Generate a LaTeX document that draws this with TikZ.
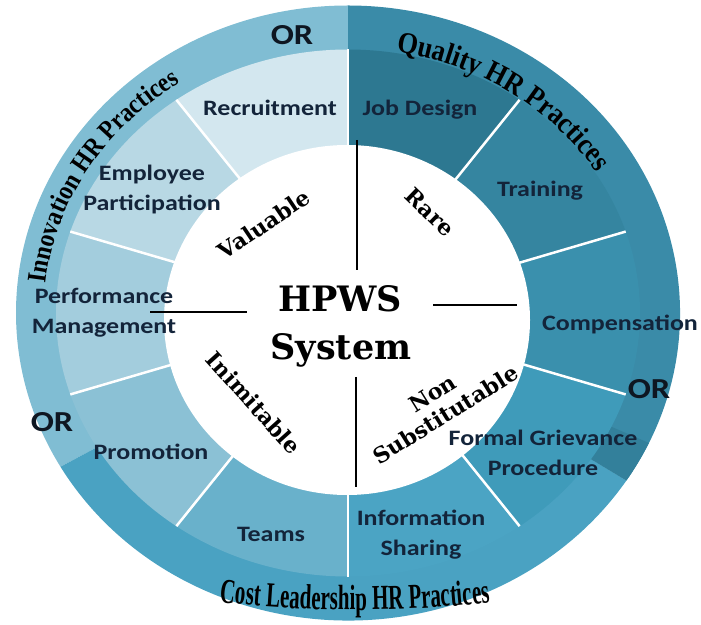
\documentclass[tikz,border=0pt]{standalone}
\usepackage{fontspec}
\usetikzlibrary{calc,decorations.text}
\newfontfamily\segfont[FakeStretch=1.18]{Carlito}
\newfontfamily\dvserif{DejaVu Serif}
\newfontfamily\catserif[FakeStretch=0.88]{Liberation Serif}
\newfontfamily\costserif[FakeStretch=0.6]{Liberation Serif}
\newcommand\catfmtA{\catserif\bfseries\fontsize{27}{27}\selectfont}
\newcommand\catfmtB{\catserif\bfseries\fontsize{30}{30}\selectfont}
\newcommand\costfmt{\costserif\bfseries\fontsize{35}{35}\selectfont}
\definecolor{cRec}{HTML}{D3E7EF}
\definecolor{cEmp}{HTML}{B8D8E4}
\definecolor{cPerf}{HTML}{A3CDDD}
\definecolor{cProm}{HTML}{8BC1D5}
\definecolor{cTeam}{HTML}{69B1CB}
\definecolor{cInfo}{HTML}{4BA4C4}
\definecolor{cForm}{HTML}{3F9BBA}
\definecolor{cComp}{HTML}{3A90AD}
\definecolor{cTrain}{HTML}{3585A0}
\definecolor{cJob}{HTML}{2D7891}
\definecolor{bInno}{HTML}{80BDD3}
\definecolor{bCost}{HTML}{4AA2C2}
\definecolor{bQual}{HTML}{3A8BA8}
\definecolor{bShade}{HTML}{33809B}
\definecolor{segtext}{HTML}{13243A}
\definecolor{ortext}{HTML}{0E1621}
\begin{document}
\begin{tikzpicture}[x=1pt,y=1pt,
  seg/.style={font=\segfont\bfseries\fontsize{22}{30}\selectfont, text=segtext, align=center, inner sep=0pt},
  orlabel/.style={font=\segfont\bfseries\fontsize{29}{29}\selectfont, text=ortext, inner sep=0pt},
  crit/.style={font=\dvserif\bfseries\fontsize{22}{25}\selectfont, text=black, align=center, inner sep=0pt},
  core/.style={font=\dvserif\bfseries\fontsize{35}{35}\selectfont, text=black, inner sep=0pt, anchor=base},
  divider/.style={white, line width=2.5pt},
  axisline/.style={black, line width=2.6pt}]
\useasboundingbox (0,0) rectangle (701,624);
\coordinate (C) at (348,311);
\coordinate (Ci) at (347,304);
\coordinate (Cc) at (355,311);
% outer category bands
\fill[bInno] (C) -- ($(C)+(90:332pt and 307.5pt)$) arc[start angle=90, end angle=210, x radius=332pt, y radius=307.5pt] -- cycle;
\fill[bCost] (C) -- ($(C)+(210:332pt and 307.5pt)$) arc[start angle=210, end angle=327, x radius=332pt, y radius=307.5pt] -- cycle;
\fill[bQual] (C) -- ($(C)+(327:332pt and 307.5pt)$) arc[start angle=327, end angle=450, x radius=332pt, y radius=307.5pt] -- cycle;
\fill[bShade] (C) -- ($(C)+(327:332pt and 307.5pt)$) arc[start angle=327, end angle=335, x radius=332pt, y radius=307.5pt] -- cycle;
% middle segments
\foreach \a/\col in {90/cRec,126/cEmp,162/cPerf,198/cProm,234/cTeam,270/cInfo,306/cForm,342/cComp,378/cTrain,414/cJob}{
  \fill[\col] (C) -- ($(C)+(\a:292pt and 263.5pt)$) arc[start angle=\a, delta angle=36, x radius=292pt, y radius=263.5pt] -- cycle;
}
\foreach \a in {90,126,162,198,234,270,306,342,378,414}{
  \draw[divider] (C) -- ($(C)+(\a:292pt and 263.5pt)$);
}
% inner white disc
\fill[white] (Ci) ellipse[x radius=183pt, y radius=175pt];
% axis lines
\coordinate (vt1) at (357,484); \coordinate (vt2) at (357,354);
\coordinate (vb1) at (356,247); \coordinate (vb2) at (356,137);
\coordinate (hl1) at (150,312); \coordinate (hl2) at (247,312);
\coordinate (hr1) at (433,319); \coordinate (hr2) at (517,319);
\draw[axisline] (vt1) -- (vt2);
\draw[axisline] (vb1) -- (vb2);
\draw[axisline] (hl1) -- (hl2);
\draw[axisline] (hr1) -- (hr2);
% segment labels
\node[seg] (rec) at (270,516) {Recruitment};
\node[seg] (job) at (420,514) {Job Design};
\node[seg] (emp) at (152,434) {Employee\\Participation};
\node[seg] (trn) at (540,433) {Training};
\node[seg] (perf) at (104,311) {Performance\\Management};
\node[seg] (comp) at (620,300) {Compensation};
\node[seg] (prom) at (151,172) {Promotion};
\node[seg] (form) at (543,171) {Formal Grievance\\Procedure};
\node[seg] (team) at (271,90) {Teams};
\node[seg] (info) at (421,89) {Information\\Sharing};
% OR labels
\node[orlabel] (or1) at (292,589) {OR};
\node[orlabel] (or2) at (52,202) {OR};
\node[orlabel] (or3) at (649,235) {OR};
% criteria
\node[crit, rotate=34] (val) at (264,400) {Valuable};
\node[crit, rotate=-44] (rare) at (430,412) {Rare};
\node[crit, rotate=-48] (inim) at (254,221) {Inimitable};
\node[crit, rotate=32] (nonsub) at (439,220) {Non\\Substitutable};
% core
\node[core] (hpws) at (340,312) {HPWS};
\node[core] (sys) at (341,264) {System};
% category labels along arcs
\path[decorate, decoration={text along path, text={|\catfmtA|Innovation HR Practices}, text align=center, text color=black}]
  ($(C)+(183:304pt and 276pt)$) arc[start angle=183, end angle=115, x radius=304pt, y radius=276pt];
\path[decorate, decoration={text along path, text={|\catfmtB|Quality HR Practices}, text align=center, text color=black}]
  ($(C)+(88:293pt and 265pt)$) arc[start angle=88, end angle=24, x radius=293pt, y radius=265pt];
\path[decorate, decoration={text along path, text={|\costfmt|Cost Leadership HR Practices}, text align=center, text color=black}]
  ($(Cc)+(250:600pt and 297pt)$) arc[start angle=250, end angle=290, x radius=600pt, y radius=297pt];
\end{tikzpicture}
\end{document}
